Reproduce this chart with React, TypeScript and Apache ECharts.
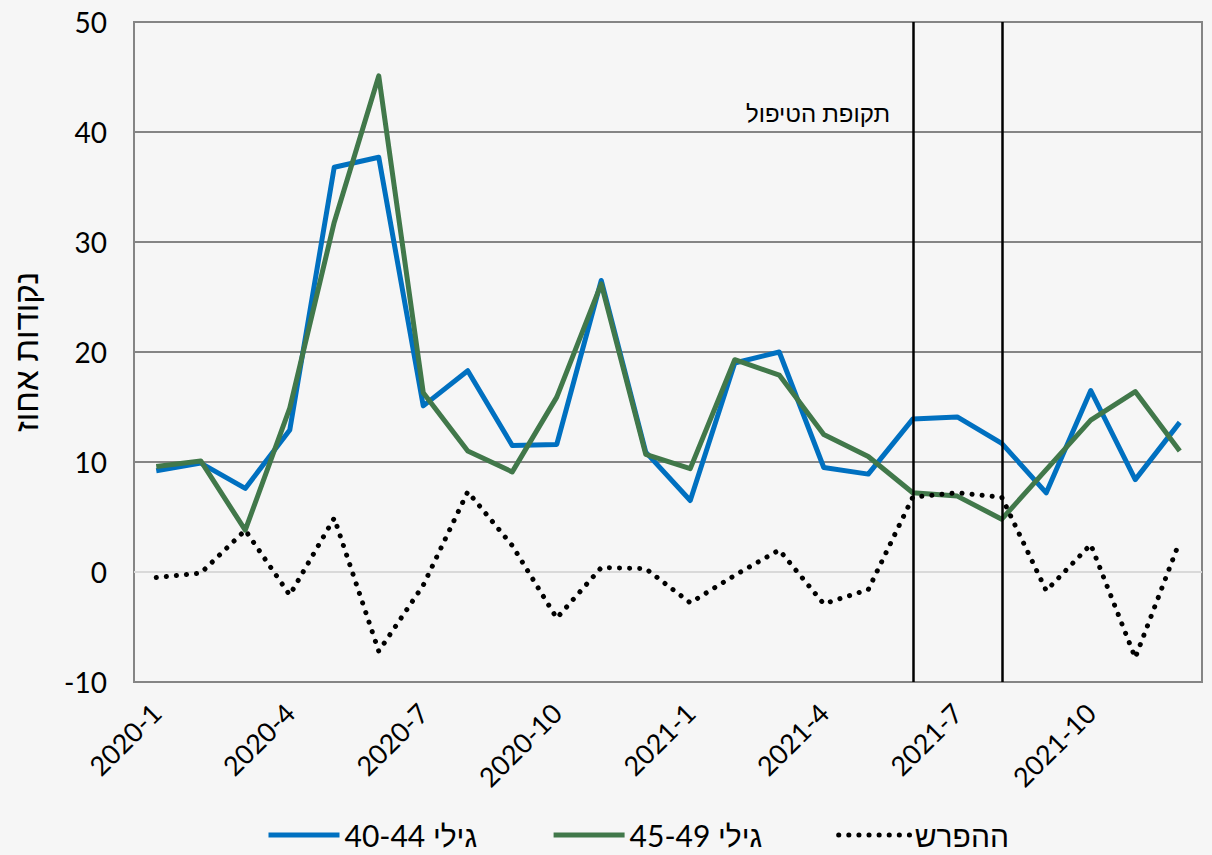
import React, { useEffect, useRef } from "react";
import * as echarts from "echarts";

const months: string[] = [
  "2020-1", "2020-2", "2020-3", "2020-4", "2020-5", "2020-6",
  "2020-7", "2020-8", "2020-9", "2020-10", "2020-11", "2020-12",
  "2021-1", "2021-2", "2021-3", "2021-4", "2021-5", "2021-6",
  "2021-7", "2021-8", "2021-9", "2021-10", "2021-11", "2021-12",
];

const ages40to44: number[] = [
  9.2, 9.9, 7.6, 12.9, 36.8, 37.7, 15.1, 18.3, 11.5, 11.6, 26.5, 10.9,
  6.5, 19.0, 20.0, 9.5, 8.9, 13.9, 14.1, 11.7, 7.2, 16.5, 8.4, 13.6,
];

const ages45to49: number[] = [
  9.6, 10.1, 3.8, 14.9, 31.8, 45.1, 16.3, 11.0, 9.1, 15.9, 26.2, 10.7,
  9.4, 19.3, 17.9, 12.5, 10.5, 7.2, 6.9, 4.8, 9.3, 13.8, 16.4, 11.0,
];

const difference: number[] = [
  -0.5, -0.1, 3.8, -2.1, 4.9, -7.2, -1.2, 7.3, 2.4, -4.2, 0.4, 0.3,
  -2.8, -0.3, 2.0, -2.9, -1.6, 6.8, 7.2, 6.8, -1.7, 2.5, -7.8, 2.8,
];

const treatmentStart = "2021-6";
const treatmentEnd = "2021-8";

const seriesNames = ["גילי 40-44", "גילי 45-49", "ההפרש"];
const yAxisName = "נקודות אחוז";
const annotationText = "תקופת הטיפול";

const FONT = "Lato, 'Liberation Sans', 'DejaVu Sans', sans-serif";

export default function App() {
  const ref = useRef<HTMLDivElement>(null);

  useEffect(() => {
    if (!ref.current) return;
    const chart = echarts.init(ref.current, undefined, { renderer: "svg" });
    chart.setOption({
      animation: false,
      backgroundColor: "#f6f6f6",
      textStyle: { fontFamily: FONT, color: "#000" },
      grid: {
        left: 130,
        right: 10,
        top: 22,
        bottom: 173,
        show: true,
        borderColor: "#858585",
        borderWidth: 2,
        backgroundColor: "transparent",
      },
      legend: {
        left: 261,
        top: 815,
        itemWidth: 71,
        itemHeight: 14,
        itemGap: 74,
        itemStyle: { opacity: 0 },
        lineStyle: { width: 5 },
        textStyle: { fontSize: 30, color: "#000", fontFamily: FONT, padding: [0, 0, 0, 0] },
        data: seriesNames,
      },
      xAxis: {
        type: "category",
        data: months,
        boundaryGap: true,
        axisLine: { show: false, onZero: false },
        axisTick: { show: false },
        splitLine: { show: false },
        axisLabel: {
          interval: 2,
          rotate: 45,
          fontSize: 27,
          color: "#000",
          margin: 26,
          fontFamily: FONT,
        },
      },
      yAxis: {
        type: "value",
        min: -10,
        max: 50,
        interval: 10,
        name: yAxisName,
        nameLocation: "middle",
        nameGap: 93,
        nameTextStyle: { fontSize: 33, color: "#000", fontFamily: FONT },
        axisLine: { show: false },
        axisTick: { show: false },
        axisLabel: { fontSize: 28, color: "#000", margin: 27, fontFamily: FONT },
        splitLine: {
          show: true,
          lineStyle: {
            color: ["#858585", "#d9d9d9", "#858585", "#858585", "#858585", "#858585", "#858585"],
            width: 2,
          },
        },
      },
      graphic: [
        {
          type: "text",
          right: 1212 - 890,
          top: 100,
          style: {
            text: annotationText,
            fontSize: 24,
            fill: "#000",
            fontFamily: FONT,
          },
        },
      ],
      series: [
        {
          name: seriesNames[0],
          type: "line",
          data: ages40to44,
          symbol: "none",
          lineStyle: { color: "#0070c0", width: 5, join: "round" },
          itemStyle: { color: "#0070c0" },
          z: 3,
        },
        {
          name: seriesNames[1],
          type: "line",
          data: ages45to49,
          symbol: "none",
          lineStyle: { color: "#41784a", width: 5, join: "round" },
          itemStyle: { color: "#41784a" },
          z: 4,
          markLine: {
            silent: true,
            symbol: "none",
            label: { show: false },
            lineStyle: { color: "#000", width: 2.5, type: "solid" },
            data: [{ xAxis: treatmentStart }, { xAxis: treatmentEnd }],
          },
        },
        {
          name: seriesNames[2],
          type: "line",
          data: difference,
          symbol: "none",
          lineStyle: { color: "#000", width: 5, type: [0.1, 10], cap: "round" },
          itemStyle: { color: "#000" },
          z: 5,
        },
      ],
    });
    return () => chart.dispose();
  }, []);

  return (
    <div
      ref={ref}
      style={{ position: "fixed", left: 0, top: 0, width: 1212, height: 855 }}
    />
  );
}
